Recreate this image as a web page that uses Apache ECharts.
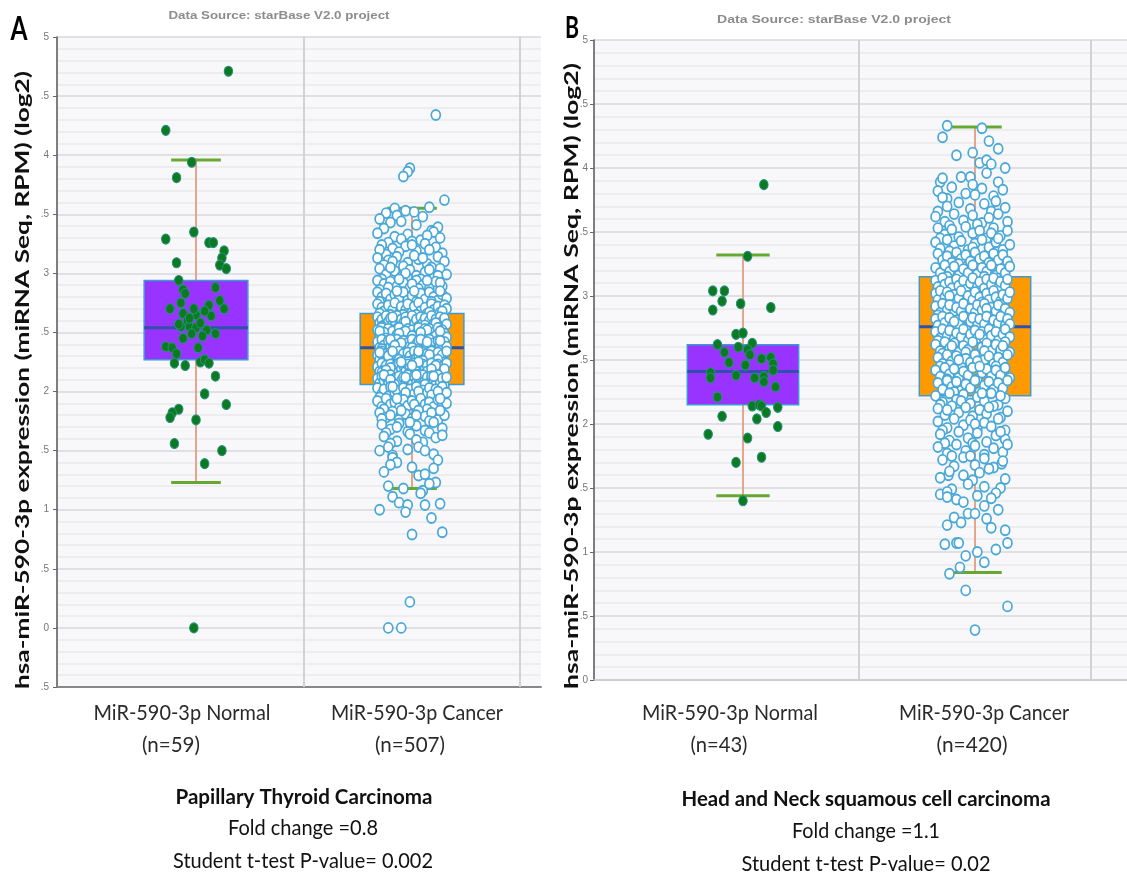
<!DOCTYPE html>
<html>
<head>
<meta charset="utf-8">
<script src="https://cdn.jsdelivr.net/npm/echarts@6/dist/echarts.min.js"></script>
<style>
  html, body { margin: 0; padding: 0; background: #ffffff; }
  #chart { width: 1127px; height: 875px; }
</style>
</head>
<body>
<div id="chart"></div>
<script>
// ---- Labels ----
const sourceNote = 'Data Source: starBase V2.0 project';
const yTitle = 'hsa-miR-590-3p expression (miRNA Seq, RPM) (log2)';
const categories = ['MiR-590-3p Normal', 'MiR-590-3p Cancer'];
const countsA = ['(n=59)', '(n=507)'];
const countsB = ['(n=43)', '(n=420)'];
const captionA = ['Papillary Thyroid Carcinoma', 'Fold change =0.8', 'Student t-test P-value= 0.002'];
const captionB = ['Head and Neck squamous cell carcinoma', 'Fold change =1.1', 'Student t-test P-value= 0.02'];

// ---- Y tick labels (left digit clipped in the source plots) ----
const yTickValuesA = [-0.5, 0, 0.5, 1, 1.5, 2, 2.5, 3, 3.5, 4, 4.5, 5];
const yTickLabelsA = ['.5', '0', '.5', '1', '.5', '2', '.5', '3', '.5', '4', '.5', '5'];
const yTickValuesB = [0, 0.5, 1, 1.5, 2, 2.5, 3, 3.5, 4, 4.5, 5];
const yTickLabelsB = ['0', '.5', '1', '.5', '2', '.5', '3', '.5', '4', '.5', '5'];

// ---- Box statistics: [lower whisker, Q1, median, Q3, upper whisker] ----
const boxA = [[1.23, 2.27, 2.54, 2.94, 3.96], [1.18, 2.06, 2.37, 2.66, 3.55]];
const boxB = [[1.44, 2.15, 2.41, 2.62, 3.32], [0.84, 2.22, 2.76, 3.15, 4.32]];

// ---- Samples: [horizontal jitter, log2 expression] ----
const normalA = [
  [-.14,4.21],[.15,4.71],[-.02,3.94],[-.09,3.81],[-.01,3.35],[-.14,3.29],[.06,3.26],[.08,3.26],[.13,3.19],[.12,3.13],
  [.11,3.07],[.14,3.04],[-.09,3.09],[-.08,2.94],[-.06,2.86],[-.05,2.83],[.09,2.88],[-.07,2.75],[-.12,2.70],[.06,2.73],
  [.11,2.77],[.13,2.70],[-.06,2.66],[.00,2.65],[.07,2.64],[-.04,2.60],[-.07,2.55],[-.03,2.55],[.00,2.54],[-.02,2.49],
  [-.06,2.45],[.09,2.49],[-.14,2.38],[-.11,2.37],[.01,2.37],[-.09,2.32],[-.10,2.24],[-.05,2.22],[.02,2.25],[.04,2.27],
  [.06,2.24],[.09,2.13],[.04,1.98],[.14,1.89],[-.08,1.85],[-.11,1.82],[-.12,1.78],[.00,1.76],[-.10,1.56],[.12,1.50],
  [.04,1.39],[-.01,0.00],[.02,2.58],[-.03,2.62],[.05,2.52],[.04,2.68],[.03,2.47],[-.01,2.70],[-.08,2.57]
];

const cancerA = [
  [.11,4.34],[-.01,3.89],[-.02,3.86],[-.04,3.82],[.15,3.62],
  [.08,3.56],[-.08,3.55],[-.12,3.51],[-.07,3.49],[-.03,3.53],[.01,3.52],[-.15,3.46],[.05,3.48],
  [-.10,3.43],[-.13,3.38],[.02,3.41],[.09,3.36],[-.05,3.44],[.12,3.39],
  [-.16,3.34],[-.08,3.31],[-.02,3.33],[.04,3.28],[.10,3.35],[-.11,3.26],[.13,3.30],[.00,3.27],[-.05,3.29],[.07,3.32],
  [-.14,3.24],[-.09,3.21],[-.03,3.23],[.02,3.19],[.06,3.25],[.11,3.22],[.14,3.17],[-.12,3.16],[-.06,3.18],[.08,3.20],[.00,3.24],[-.15,3.20],
  [-.16,3.13],[-.11,3.11],[-.07,3.14],[-.02,3.09],[.03,3.12],[.07,3.08],[.12,3.14],[.15,3.10],[-.13,3.07],[-.04,3.06],[.01,3.15],[.09,3.05],[-.09,3.10],[.05,3.13],
  [-.15,3.04],[-.12,2.99],[-.08,3.02],[-.05,2.97],[-.01,3.03],[.02,2.98],[.06,3.01],[.10,2.96],[.13,3.04],[.16,2.99],[-.14,2.95],[-.10,3.05],[-.03,3.00],[.04,2.95],[.08,3.03],[.12,2.98],
  [-.16,2.94],[-.13,2.91],[-.10,2.93],[-.07,2.89],[-.04,2.92],[-.01,2.88],[.02,2.94],[.05,2.90],[.08,2.87],[.11,2.93],[.14,2.89],[-.15,2.86],[-.11,2.88],[-.06,2.95],[.03,2.87],[.07,2.94],[.13,2.92],[.00,2.91],
  [-.16,2.84],[-.14,2.80],[-.12,2.83],[-.10,2.78],[-.08,2.82],[-.06,2.79],[-.04,2.84],[-.02,2.77],[.00,2.81],[.02,2.76],[.04,2.83],[.06,2.78],[.08,2.84],[.10,2.80],[.12,2.77],[.14,2.82],[.16,2.79],[-.15,2.76],[-.07,2.85],[.01,2.85],[.09,2.76],[.13,2.85],
  [-.16,2.74],[-.14,2.71],[-.13,2.68],[-.11,2.73],[-.09,2.69],[-.08,2.75],[-.06,2.66],[-.05,2.72],[-.03,2.69],[-.02,2.74],[.00,2.67],[.01,2.72],[.03,2.75],[.04,2.68],
  [.06,2.71],[.07,2.66],[.09,2.74],[.10,2.69],[.12,2.72],[.13,2.67],[.15,2.73],[.16,2.70],[-.15,2.66],[-.10,2.65],[-.04,2.65],[.02,2.65],[.08,2.67],[.14,2.68],
  [-.16,2.63],[-.15,2.58],[-.14,2.61],[-.13,2.56],[-.12,2.64],[-.11,2.59],[-.10,2.62],[-.09,2.57],[-.08,2.60],[-.07,2.64],[-.06,2.55],[-.05,2.61],[-.04,2.58],
  [-.03,2.63],[-.02,2.56],[-.01,2.60],[.00,2.64],[.01,2.57],[.02,2.61],[.03,2.55],[.04,2.63],[.05,2.58],[.06,2.62],[.07,2.56],[.08,2.60],[.09,2.64],
  [.10,2.57],[.11,2.61],[.12,2.55],[.13,2.63],[.14,2.59],[.15,2.62],[.16,2.57],[-.14,2.55],[-.09,2.63],[-.03,2.59],[.06,2.56],[.11,2.58],
  [-.16,2.52],[-.15,2.47],[-.14,2.54],[-.12,2.49],[-.11,2.53],[-.10,2.46],[-.09,2.51],[-.07,2.48],[-.06,2.54],[-.05,2.45],[-.04,2.50],[-.02,2.53],[-.01,2.47],[.00,2.52],
  [.02,2.49],[.03,2.54],[.04,2.46],[.05,2.51],[.07,2.48],[.08,2.53],[.09,2.45],[.10,2.50],[.12,2.54],[.13,2.47],[.14,2.52],[.15,2.49],[.16,2.46],
  [-.13,2.50],[-.08,2.45],[-.03,2.51],[.01,2.45],[.06,2.53],[.11,2.47],[-.12,2.45],[-.06,2.49],[.00,2.47],[.07,2.52],[.13,2.51],[-.15,2.51],[.04,2.50],
  [-.16,2.42],[-.15,2.37],[-.14,2.44],[-.13,2.39],[-.12,2.36],[-.11,2.43],[-.10,2.38],[-.09,2.41],[-.08,2.35],[-.07,2.44],[-.06,2.40],[-.05,2.37],[-.04,2.43],[-.03,2.36],
  [-.02,2.41],[-.01,2.38],[.00,2.44],[.01,2.35],[.02,2.40],[.03,2.43],[.04,2.37],[.05,2.42],[.06,2.36],[.07,2.39],[.08,2.44],[.09,2.38],[.10,2.41],[.11,2.35],
  [.12,2.43],[.13,2.39],[.14,2.36],[.15,2.42],[.16,2.38],[-.14,2.36],[-.10,2.44],[-.05,2.41],[.00,2.37],[.04,2.44],[.09,2.35],[.13,2.43],[-.08,2.39],[.07,2.42],
  [-.16,2.31],[-.15,2.27],[-.14,2.34],[-.13,2.29],[-.12,2.32],[-.11,2.26],[-.10,2.33],[-.09,2.28],[-.08,2.31],[-.07,2.25],[-.06,2.34],[-.05,2.29],[-.04,2.32],[-.03,2.27],
  [-.02,2.33],[-.01,2.30],[.00,2.26],[.01,2.34],[.02,2.28],[.03,2.31],[.04,2.25],[.05,2.33],[.06,2.29],[.07,2.32],[.08,2.27],[.09,2.34],[.10,2.30],[.11,2.26],
  [.12,2.33],[.13,2.28],[.14,2.31],[.15,2.25],[.16,2.34],[-.15,2.33],[-.11,2.30],[-.06,2.27],[-.02,2.25],[.03,2.34],[.08,2.31],[.12,2.27],[-.09,2.34],[.05,2.26],
  [-.16,2.21],[-.15,2.17],[-.14,2.24],[-.13,2.19],[-.12,2.22],[-.11,2.16],[-.10,2.23],[-.09,2.18],[-.08,2.21],[-.07,2.15],[-.06,2.24],[-.05,2.19],[-.04,2.22],[-.03,2.17],[-.02,2.23],
  [-.01,2.20],[.00,2.16],[.01,2.24],[.02,2.18],[.03,2.21],[.04,2.15],[.05,2.23],[.06,2.19],[.07,2.22],[.08,2.17],[.09,2.24],[.10,2.20],[.11,2.16],[.12,2.23],[.13,2.18],
  [.14,2.21],[.15,2.15],[.16,2.24],[-.14,2.16],[-.10,2.20],[-.05,2.25],[-.01,2.16],[.03,2.25],[.07,2.17],[.11,2.22],[.15,2.19],[-.12,2.18],[.00,2.22],[.09,2.19],
  [-.16,2.11],[-.15,2.07],[-.14,2.13],[-.13,2.09],[-.12,2.12],[-.11,2.06],[-.10,2.14],[-.09,2.08],[-.08,2.11],[-.07,2.05],[-.06,2.13],[-.05,2.09],[-.04,2.12],[-.03,2.07],
  [-.02,2.14],[-.01,2.10],[.00,2.06],[.01,2.13],[.02,2.08],[.03,2.11],[.04,2.05],[.05,2.14],[.06,2.09],[.07,2.12],[.08,2.07],[.09,2.13],[.10,2.10],[.11,2.06],
  [.12,2.14],[.13,2.08],[.14,2.11],[.15,2.05],[.16,2.12],[-.13,2.14],[-.08,2.06],[-.03,2.12],[.02,2.14],[.06,2.06],[.10,2.13],[-.10,2.10],
  [-.16,2.03],[-.14,1.98],[-.13,2.02],[-.11,1.96],[-.10,2.04],[-.08,1.99],[-.07,2.01],[-.05,1.95],[-.04,2.03],[-.02,1.97],[-.01,2.02],[.01,1.98],[.02,2.04],[.04,1.96],
  [.05,2.01],[.07,1.99],[.08,2.03],[.10,1.95],[.11,2.02],[.13,1.97],[.14,2.04],[.16,1.99],[-.15,1.95],[-.09,2.04],[-.03,1.99],[.03,2.00],[.09,1.97],[.12,2.00],
  [-.16,1.92],[-.14,1.87],[-.12,1.94],[-.10,1.89],[-.08,1.91],[-.06,1.86],[-.04,1.93],[-.02,1.88],[.00,1.92],[.02,1.86],[.04,1.94],
  [.06,1.89],[.08,1.91],[.10,1.87],[.12,1.93],[.14,1.88],[.16,1.90],[-.13,1.85],[-.07,1.94],[.01,1.89],[.07,1.85],[.13,1.94],
  [-.15,1.82],[-.12,1.78],[-.09,1.83],[-.06,1.76],[-.03,1.81],[.00,1.77],[.03,1.84],[.06,1.79],[.09,1.82],[.12,1.76],[.15,1.80],[-.14,1.77],[-.05,1.84],[.02,1.80],[.08,1.75],[.13,1.84],[-.10,1.80],
  [-.14,1.72],[-.10,1.68],[-.06,1.73],[-.02,1.66],[.02,1.71],[.06,1.67],[.10,1.74],[.14,1.69],[-.12,1.65],[-.01,1.74],[.08,1.65],[-.07,1.70],
  [-.13,1.62],[-.07,1.58],[-.01,1.64],[.05,1.57],[.11,1.61],[-.10,1.56],[.02,1.59],[.14,1.63],
  [-.15,1.50],[-.11,1.53],[-.02,1.51],[.03,1.53],[.06,1.50],[-.09,1.46],[.10,1.47],
  [-.09,1.44],[-.07,1.40],[-.10,1.38],[.12,1.42],[.00,1.36],
  [.03,1.29],[.06,1.30],[.10,1.35],[-.13,1.32],
  [-.11,1.20],[.11,1.23],[-.04,1.18],[.05,1.16],[.08,1.22],
  [.04,1.14],[-.09,1.11],[-.06,1.06],[.06,1.04],
  [-.02,1.04],[-.15,1.00],[-.03,0.98],[.13,1.05],
  [.09,0.93],[.14,0.81],[.00,0.79],[-.01,0.22],[-.11,0.00],[-.05,0.00]
];

const normalB = [
  [.09,3.87],[.02,3.31],[-.13,3.04],[-.08,3.04],[-.09,2.96],[-.13,2.89],[-.01,2.94],[.12,2.91],[-.03,2.70],[.00,2.71],
  [-.11,2.62],[.04,2.63],[.02,2.58],[.03,2.54],[-.08,2.56],[-.06,2.48],[.08,2.51],[.12,2.52],[.01,2.46],[.13,2.47],
  [.13,2.42],[-.14,2.40],[-.14,2.36],[-.03,2.38],[.05,2.36],[.09,2.37],[.09,2.33],[.14,2.29],[-.11,2.21],[.04,2.14],
  [.07,2.15],[.08,2.14],[.15,2.13],[.10,2.09],[-.09,2.06],[.06,2.04],[.15,1.98],[-.15,1.92],[.02,1.89],[.08,1.74],
  [-.03,1.70],[.00,1.40],[-.02,2.60]
];

const cancerB = [
  [-.12,4.33],[.03,4.31],[-.14,4.24],[.06,4.21],[.10,4.15],[-.08,4.10],[-.01,4.12],[.02,4.04],[.05,4.06],[.07,4.03],[.13,4.00],[.05,3.96],
  [.10,3.89],[-.15,3.89],[-.14,3.92],[-.06,3.93],[-.02,3.93],[-.01,3.87],
  [-.10,3.85],[-.16,3.82],[-.04,3.80],[.03,3.84],[.08,3.78],[.12,3.83],[-.12,3.76],[.00,3.79],
  [-.14,3.77],[-.12,3.70],[-.07,3.73],[-.02,3.68],[.04,3.72],[.09,3.74],[.13,3.69],[-.16,3.66],[.07,3.66],
  [-.17,3.62],[-.13,3.58],[-.09,3.64],[-.05,3.59],[-.01,3.63],[.03,3.57],[.06,3.61],[.10,3.64],[.14,3.58],[-.11,3.55],[.01,3.56],
  [-.16,3.53],[-.13,3.48],[-.10,3.52],[-.07,3.46],[-.04,3.54],[-.01,3.49],[.02,3.51],[.05,3.45],[.08,3.53],[.11,3.47],[.14,3.51],[-.15,3.45],[.07,3.49],
  [-.17,3.42],[-.15,3.37],[-.12,3.44],[-.09,3.39],[-.06,3.43],[-.03,3.36],[.00,3.41],[.03,3.44],[.06,3.38],[.09,3.42],[.12,3.36],[.15,3.40],[-.11,3.35],[-.01,3.38],[.10,3.45],
  [-.16,3.33],[-.14,3.28],[-.12,3.31],[-.10,3.26],[-.08,3.34],[-.06,3.29],[-.04,3.32],[-.02,3.27],[.00,3.34],[.02,3.29],[.04,3.31],[.06,3.26],[.08,3.33],[.10,3.28],[.12,3.32],[.14,3.27],[-.07,3.25],
  [-.17,3.22],[-.15,3.18],[-.13,3.24],[-.11,3.19],[-.09,3.23],[-.07,3.16],[-.05,3.21],[-.03,3.18],[-.01,3.24],[.01,3.17],[.03,3.22],[.05,3.19],[.07,3.24],[.09,3.16],[.11,3.21],[.13,3.18],[.15,3.23],[-.12,3.15],[.04,3.15],
  [-.17,3.12],[-.16,3.07],[-.14,3.14],[-.13,3.09],[-.11,3.11],[-.10,3.06],[-.08,3.13],[-.07,3.08],[-.05,3.12],[-.04,3.05],[-.02,3.10],
  [-.01,3.14],[.01,3.07],[.02,3.11],[.04,3.06],[.05,3.13],[.07,3.09],[.08,3.14],[.10,3.06],[.11,3.11],[.13,3.08],[.14,3.13],
  [-.17,3.02],[-.16,2.97],[-.15,3.04],[-.13,2.99],[-.12,3.03],[-.10,2.96],[-.09,3.01],[-.07,2.98],[-.06,3.04],[-.04,2.95],[-.03,3.00],[-.01,2.97],
  [.00,3.03],[.02,2.99],[.03,2.95],[.05,3.02],[.06,2.97],[.08,3.04],[.09,2.99],[.11,2.96],[.12,3.01],[.14,2.98],[.15,3.03],[-.11,3.00],
  [-.17,2.92],[-.15,2.87],[-.14,2.94],[-.12,2.89],[-.11,2.93],[-.09,2.86],[-.08,2.91],[-.06,2.88],[-.05,2.94],[-.03,2.85],[-.02,2.90],[.00,2.87],
  [.01,2.93],[.03,2.89],[.04,2.94],[.06,2.86],[.07,2.91],[.09,2.88],[.10,2.93],[.12,2.85],[.13,2.90],[.15,2.87],[-.16,2.85],[.05,2.90],
  [-.17,2.82],[-.16,2.77],[-.14,2.84],[-.13,2.79],[-.11,2.83],[-.10,2.76],[-.08,2.81],[-.07,2.78],[-.05,2.84],[-.04,2.75],[-.02,2.80],[-.01,2.83],
  [.01,2.77],[.02,2.82],[.04,2.78],[.05,2.84],[.07,2.76],[.08,2.81],[.10,2.79],[.11,2.84],[.13,2.77],[.14,2.82],[.15,2.78],[-.09,2.80],
  [-.17,2.72],[-.15,2.67],[-.14,2.74],[-.12,2.69],[-.11,2.73],[-.09,2.66],[-.08,2.71],[-.06,2.68],[-.05,2.74],[-.03,2.65],[-.02,2.70],[.00,2.73],
  [.01,2.67],[.03,2.72],[.04,2.66],[.06,2.74],[.07,2.69],[.09,2.72],[.10,2.65],[.12,2.70],[.13,2.74],[.15,2.68],[-.16,2.65],[.02,2.70],
  [-.17,2.62],[-.15,2.57],[-.13,2.64],[-.11,2.59],[-.09,2.63],[-.07,2.56],[-.05,2.61],[-.03,2.58],[-.01,2.64],[.01,2.55],[.03,2.60],
  [.05,2.63],[.07,2.57],[.09,2.62],[.11,2.58],[.13,2.64],[.15,2.56],[-.14,2.55],[-.04,2.56],[.04,2.57],[.12,2.61],[-.10,2.61],
  [-.16,2.52],[-.14,2.47],[-.12,2.54],[-.10,2.49],[-.08,2.53],[-.06,2.46],[-.04,2.51],[-.02,2.48],[.00,2.54],[.02,2.45],[.04,2.50],
  [.06,2.53],[.08,2.47],[.10,2.52],[.12,2.48],[.14,2.54],[-.15,2.45],[-.07,2.50],[.01,2.49],[.09,2.45],[-.11,2.46],
  [-.17,2.42],[-.15,2.37],[-.13,2.44],[-.11,2.39],[-.09,2.43],[-.07,2.36],[-.05,2.41],[-.03,2.38],[-.01,2.44],[.01,2.35],
  [.03,2.40],[.05,2.43],[.07,2.37],[.09,2.42],[.11,2.38],[.13,2.44],[.15,2.36],[-.12,2.35],[.02,2.45],
  [-.16,2.32],[-.14,2.27],[-.12,2.34],[-.10,2.29],[-.08,2.33],[-.06,2.26],[-.04,2.31],[-.02,2.28],[.00,2.34],[.02,2.25],[.04,2.30],[.06,2.33],[.08,2.27],[.10,2.32],[.12,2.28],[.14,2.34],[-.09,2.25],
  [-.17,2.22],[-.14,2.17],[-.11,2.24],[-.08,2.19],[-.05,2.23],[-.02,2.16],[.01,2.21],[.04,2.18],[.07,2.24],[.10,2.15],[.13,2.20],[-.15,2.15],[-.06,2.18],[.03,2.24],[.11,2.22],
  [-.16,2.12],[-.13,2.07],[-.10,2.14],[-.07,2.09],[-.04,2.13],[-.01,2.06],[.02,2.11],[.05,2.08],[.08,2.14],[.11,2.05],[.14,2.10],[-.12,2.11],[.06,2.13],
  [-.16,2.02],[-.12,1.97],[-.09,2.04],[-.05,1.99],[-.02,2.03],[.01,1.96],[.04,2.01],[.07,1.98],[.10,2.04],[.13,1.95],[-.14,1.95],[.00,2.00],
  [-.15,1.92],[-.11,1.87],[-.07,1.94],[-.03,1.89],[.01,1.93],[.05,1.86],[.09,1.91],[.13,1.88],[-.13,1.85],[-.01,1.85],[.11,1.94],
  [-.16,1.82],[-.12,1.77],[-.08,1.84],[-.04,1.79],[.00,1.83],[.04,1.76],[.08,1.81],[.12,1.78],[-.10,1.75],[.14,1.84],
  [.115,1.69],[.12,1.71],[-.14,1.72],[-.09,1.67],[-.05,1.74],[.00,1.68],[.04,1.73],[.08,1.66],[-.02,1.75],
  [-.115,1.60],[-.11,1.63],[-.05,1.60],[.13,1.57],[-.15,1.58],[.02,1.62],[.06,1.65],[-.01,1.56],
  [-.10,1.49],[.11,1.50],[.09,1.46],[-.15,1.45],[-.12,1.47],[-.03,1.53],[.04,1.51],
  [-.12,1.43],[-.08,1.41],[.04,1.36],[-.05,1.39],[.01,1.44],[.07,1.42],
  [-.03,1.30],[.00,1.30],[-.09,1.27],[.05,1.26],[.10,1.33],
  [-.12,1.21],[.07,1.19],[-.06,1.23],[.13,1.17],
  [-.13,1.06],[-.08,1.07],[-.07,1.07],[.14,1.07],
  [.01,1.00],[-.04,0.97],[.09,1.02],
  [-.065,0.88],[.04,0.92],[-.11,0.83],[-.04,0.70],[.14,0.575],[.00,0.39]
];

// ---- Styling ----
const FONT = 'Lato, "Liberation Sans", Arial, sans-serif';
const boxFill = ['#9933ff', '#ff9900'];
const BOX_HALF = 0.24;
const CAP_HALF = 0.115;

function tickFormatter(values, labels) {
  return function (v) {
    const i = values.findIndex(t => Math.abs(t - v) < 1e-6);
    return i >= 0 ? labels[i] : '';
  };
}

function renderBox(params, api) {
  const x = api.value(0);
  const lo = api.value(1), q1 = api.value(2), med = api.value(3), q3 = api.value(4), hi = api.value(5);
  const top = api.coord([x, hi]), bot = api.coord([x, lo]);
  const bl = api.coord([x - BOX_HALF, q1]), tr = api.coord([x + BOX_HALF, q3]);
  const ml = api.coord([x - BOX_HALF, med]), mr = api.coord([x + BOX_HALF, med]);
  const c1 = api.coord([x - CAP_HALF, hi]), c2 = api.coord([x + CAP_HALF, hi]);
  const d1 = api.coord([x - CAP_HALF, lo]), d2 = api.coord([x + CAP_HALF, lo]);
  return {
    type: 'group',
    children: [
      { type: 'line', shape: { x1: top[0], y1: top[1], x2: bot[0], y2: bot[1] }, style: { stroke: '#e5a48d', lineWidth: 2 } },
      { type: 'rect', shape: { x: bl[0], y: tr[1], width: tr[0] - bl[0], height: bl[1] - tr[1] },
        style: { fill: boxFill[params.dataIndex], stroke: '#3a9bd5', lineWidth: 1.5 } },
      { type: 'line', shape: { x1: ml[0], y1: ml[1], x2: mr[0], y2: mr[1] }, style: { stroke: '#2f52a8', lineWidth: 3 } },
      { type: 'line', shape: { x1: c1[0], y1: c1[1], x2: c2[0], y2: c2[1] }, style: { stroke: '#66a832', lineWidth: 3 } },
      { type: 'line', shape: { x1: d1[0], y1: d1[1], x2: d2[0], y2: d2[1] }, style: { stroke: '#66a832', lineWidth: 3 } }
    ]
  };
}

function yAxisFor(gridIndex, min, values, labels, margin) {
  return {
    gridIndex, type: 'value', min, max: 5, interval: 0.5,
    axisLine: { show: true, lineStyle: { color: '#555', width: 1.5 } },
    axisTick: { show: true, length: 4, lineStyle: { color: '#666' } },
    axisLabel: { formatter: tickFormatter(values, labels), fontSize: 10, color: '#777', margin, fontFamily: '"Liberation Sans", Arial' },
    splitLine: { show: true, lineStyle: { color: '#d9d9dc', width: 1.5 } },
    minorTick: { show: false, splitNumber: 5 },
    minorSplitLine: { show: true, lineStyle: { color: '#e9e9ec', width: 1.5 } }
  };
}

function xAxisFor(gridIndex, min, max, lineColor, lineWidth) {
  return {
    gridIndex, type: 'value', min, max,
    axisLine: { show: true, onZero: false, lineStyle: { color: lineColor, width: lineWidth } },
    axisTick: { show: false }, axisLabel: { show: false }, splitLine: { show: false }
  };
}

function panelSeries(idx, boxes, normal, cancer) {
  const divider = {
    silent: true, symbol: ['none', 'none'], label: { show: false },
    lineStyle: { color: '#d2d2d4', width: 2, type: 'solid' },
    data: [{ xAxis: 1.5 }, { xAxis: 2.5 }]
  };
  return [
    {
      type: 'custom', xAxisIndex: idx, yAxisIndex: idx, z: 2, silent: true,
      renderItem: renderBox,
      data: boxes.map((b, i) => [i + 1].concat(b)),
      markLine: divider
    },
    {
      type: 'scatter', xAxisIndex: idx, yAxisIndex: idx, z: 3, silent: true,
      symbol: 'circle', symbolSize: [8.5, 10],
      itemStyle: { color: '#0d7a22', borderColor: '#24907a', borderWidth: 1, opacity: 1 },
      data: normal.map(p => [1 + p[0], p[1]])
    },
    {
      type: 'scatter', xAxisIndex: idx, yAxisIndex: idx, z: 4, silent: true,
      symbol: 'circle', symbolSize: [9, 10],
      itemStyle: { color: '#ffffff', borderColor: '#4aa8d8', borderWidth: 1.8, opacity: 1 },
      data: cancer.map(p => [2 + p[0], p[1]])
    }
  ];
}

// Text sized to a given rendered width (narrow humanist face)
const measureCtx = document.createElement('canvas').getContext('2d');
function label(text, x, y, size, weight, width, color, rotation, family) {
  const fam = family || FONT;
  measureCtx.font = weight + ' ' + size + 'px ' + fam;
  const w = measureCtx.measureText(text).width || width;
  return {
    type: 'text', x, y, rotation: rotation || 0, scaleX: width / w, silent: true,
    style: { text, fontSize: size, fontWeight: weight, fontFamily: fam, fill: color, align: 'center', verticalAlign: 'middle' }
  };
}

const graphics = [
  label('A', 19, 29, 33, 'bold', 17, '#000'),
  label('B', 572, 28, 30, 'bold', 14, '#000'),
  label(sourceNote, 279, 16, 11, 'bold', 221, '#8c8c8c', 0, '"Liberation Sans", Arial'),
  label(sourceNote, 834, 20, 11, 'bold', 234, '#8c8c8c', 0, '"Liberation Sans", Arial'),
  label(yTitle, 23, 380, 19, 'bold', 618, '#111', Math.PI / 2),
  label(yTitle, 572, 376, 19, 'bold', 626, '#111', Math.PI / 2),
  label(categories[0], 182, 713, 21, 'normal', 177, '#2a2a2a'),
  label(countsA[0], 171, 745, 21, 'normal', 58, '#2a2a2a'),
  label(categories[1], 417, 713, 21, 'normal', 172, '#2a2a2a'),
  label(countsA[1], 410, 745, 21, 'normal', 70, '#2a2a2a'),
  label(captionA[0], 304, 797, 21, 'bold', 257, '#111'),
  label(captionA[1], 303, 828, 21, 'normal', 150, '#111'),
  label(captionA[2], 303, 861, 21, 'normal', 260, '#111'),
  label(categories[0], 730, 713, 22, 'normal', 176, '#2a2a2a'),
  label(countsB[0], 719, 745, 22, 'normal', 57, '#2a2a2a'),
  label(categories[1], 984, 713, 22, 'normal', 170, '#2a2a2a'),
  label(countsB[1], 972, 745, 22, 'normal', 71, '#2a2a2a'),
  label(captionB[0], 866, 799, 21, 'bold', 369, '#111'),
  label(captionB[1], 866, 831, 21, 'normal', 148, '#111'),
  label(captionB[2], 866, 864, 21, 'normal', 249, '#111')
];

const chart = echarts.init(document.getElementById('chart'), null, { renderer: 'canvas' });
chart.setOption({
  animation: false,
  backgroundColor: '#ffffff',
  grid: [
    { left: 57, top: 37, width: 484, height: 650, show: true, backgroundColor: '#f8f8fa', borderWidth: 0 },
    { left: 594, top: 40, width: 533, height: 640, show: true, backgroundColor: '#f8f8fa', borderWidth: 0 }
  ],
  xAxis: [
    xAxisFor(0, 0.3565, 2.597, '#888', 2),
    xAxisFor(1, 0.358, 2.655, '#c8c8cc', 1.5)
  ],
  yAxis: [
    yAxisFor(0, -0.5, yTickValuesA, yTickLabelsA, 8),
    yAxisFor(1, 0, yTickValuesB, yTickLabelsB, 6)
  ],
  series: panelSeries(0, boxA, normalA, cancerA).concat(panelSeries(1, boxB, normalB, cancerB)),
  graphic: graphics
});
</script>
</body>
</html>
